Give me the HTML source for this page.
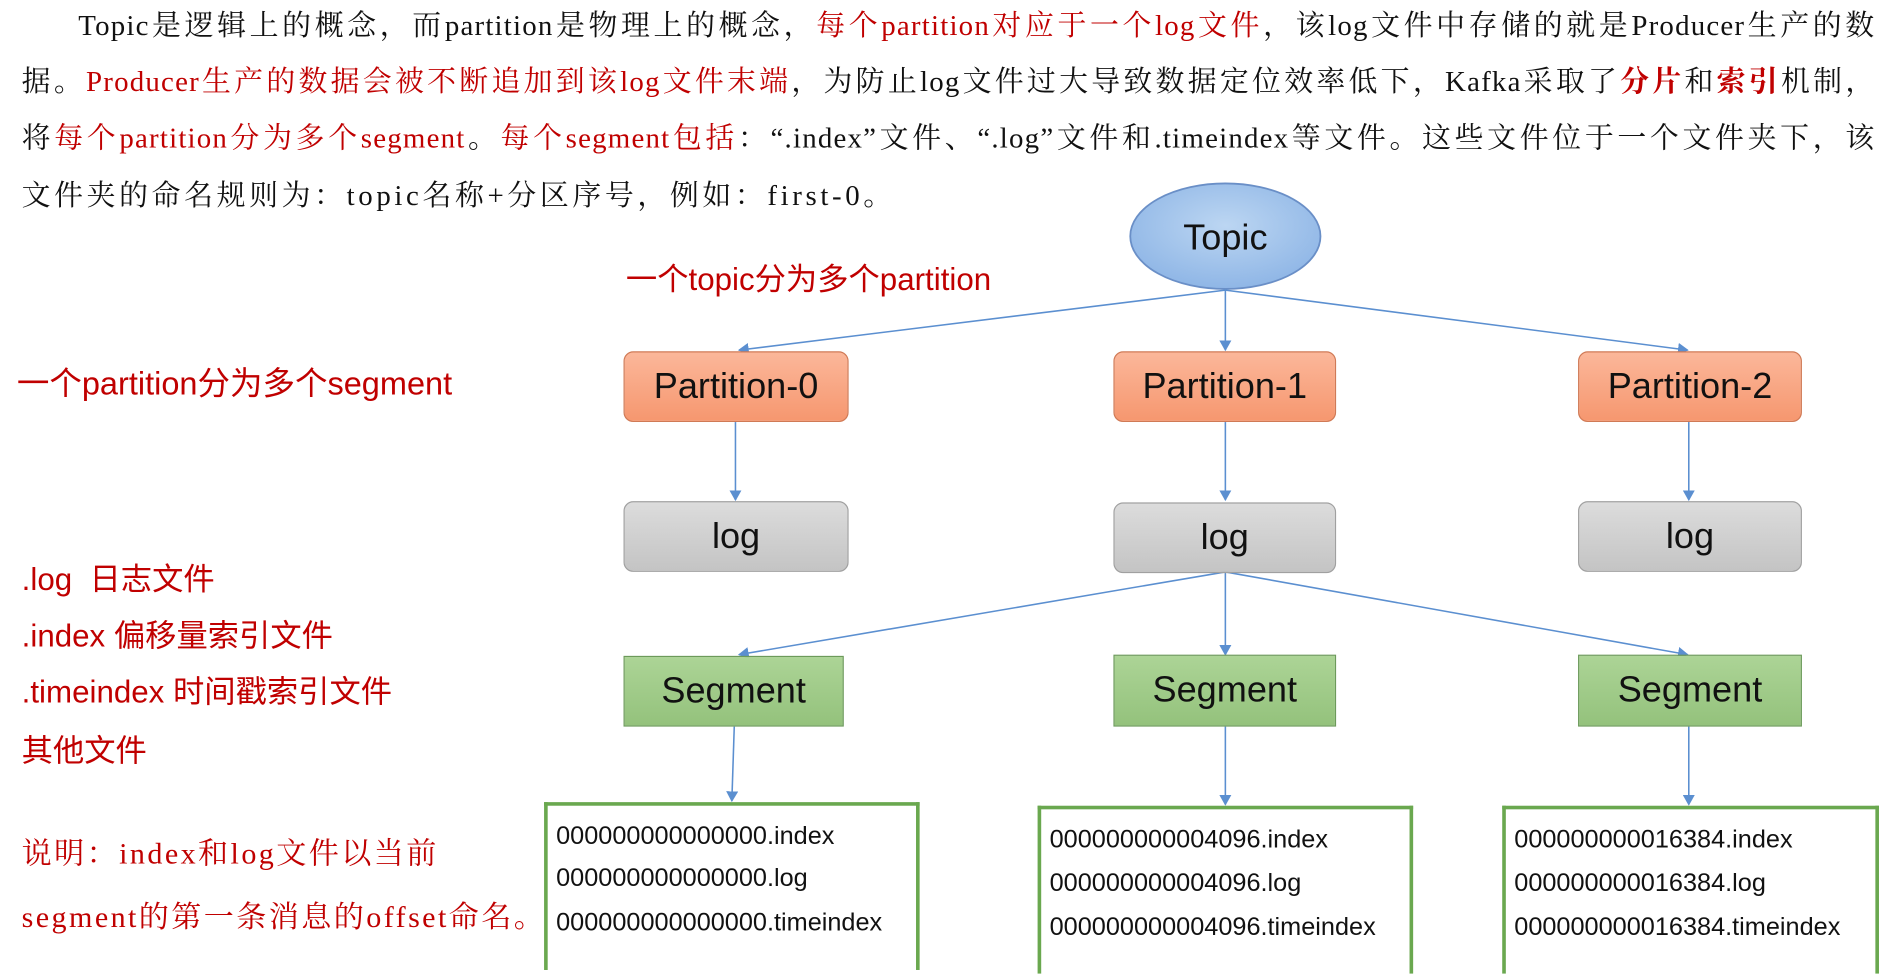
<!DOCTYPE html>
<html><head><meta charset="utf-8"><style>
html,body{margin:0;padding:0;background:#fff;width:1885px;height:940px;overflow:hidden}
#s{position:absolute;left:0;top:0;width:1566px;height:784px;transform:scale(1.2037,1.199);transform-origin:0 0}
.p{position:absolute;left:18px;width:1540px;font-family:"Liberation Serif","Noto Serif CJK SC",serif;font-size:24px;color:#111;white-space:nowrap;line-height:30px;letter-spacing:1px}
.j{text-align:justify;text-align-last:justify;white-space:normal;overflow:hidden;height:32px}
.r{color:#c00000}
.lab{position:absolute;color:#c00000;font-size:26px;white-space:nowrap;font-family:"Liberation Sans","Noto Sans CJK SC",sans-serif;line-height:30px}
.box{position:absolute;display:flex;align-items:center;justify-content:center;font-family:"Liberation Sans",sans-serif;font-size:30px;color:#111;box-sizing:border-box}
.pt{background:linear-gradient(#fbb79a,#f6976f);border:1px solid #d07a56;border-radius:8px}
.lg{background:linear-gradient(#dcdcdc,#c4c4c4);border:1px solid #a0a0a0;border-radius:8px}
.sg{background:linear-gradient(#acd496,#94c27c);border:1px solid #6c9a5a}
.fb{position:absolute;border:3px solid #6aa84f;border-bottom:none;background:#fff;font-family:"Liberation Sans",sans-serif;font-size:21px;color:#111;box-sizing:border-box;height:140px}
.fb div{position:absolute;left:7px;white-space:nowrap}
</style></head><body><div id="s">
<div class="p j" style="top:7px;left:65px;width:1493px">Topic是逻辑上的概念，而partition是物理上的概念，<span class="r">每个partition对应于一个log文件</span>，该log文件中存储的就是Producer生产的数</div>
<div class="p j" style="top:54px">据。<span class="r">Producer生产的数据会被不断追加到该log文件末端</span>，为防止log文件过大导致数据定位效率低下，Kafka采取了<span class="r"><b>分片</b></span>和<span class="r"><b>索引</b></span>机制，</div>
<div class="p j" style="top:101px">将<span class="r">每个partition分为多个segment</span>。<span class="r">每个segment包括</span>：“.index”文件、“.log”文件和.timeindex等文件。这些文件位于一个文件夹下，该</div>
<div class="p" style="top:149px;letter-spacing:3px">文件夹的命名规则为：topic名称+分区序号，例如：first-0。</div>

<svg style="position:absolute;left:0;top:0" width="1566" height="784">
<defs>
<radialGradient id="tg" cx="50%" cy="40%" r="60%"><stop offset="0" stop-color="#bcd6f2"/><stop offset="1" stop-color="#8fb6e6"/></radialGradient>
<marker id="a" markerWidth="10" markerHeight="10" refX="8" refY="5" orient="auto" markerUnits="userSpaceOnUse"><path d="M0,0 L9,5 L0,10 z" fill="#5b8fd0"/></marker>
</defs>
<ellipse cx="1018" cy="197" rx="79" ry="44" fill="url(#tg)" stroke="#6a8fc7" stroke-width="1.5"/>
<text x="1018" y="208" text-anchor="middle" font-family="Liberation Sans" font-size="30" fill="#111">Topic</text>
<g stroke="#5b8fd0" stroke-width="1.3" fill="none" marker-end="url(#a)">
<line x1="1018" y1="242" x2="614" y2="292"/>
<line x1="1018" y1="242" x2="1018" y2="292"/>
<line x1="1018" y1="242" x2="1402" y2="292"/>
<line x1="611" y1="352" x2="611" y2="417"/>
<line x1="1018" y1="352" x2="1018" y2="417"/>
<line x1="1403" y1="352" x2="1403" y2="417"/>
<line x1="1018" y1="477" x2="614" y2="546"/>
<line x1="1018" y1="477" x2="1018" y2="546"/>
<line x1="1018" y1="477" x2="1402" y2="546"/>
<line x1="610" y1="606" x2="608" y2="668"/>
<line x1="1018" y1="606" x2="1018" y2="671"/>
<line x1="1403" y1="606" x2="1403" y2="671"/>
</g>
</svg>

<div class="lab" style="left:520px;top:218px">一个topic分为多个partition</div>
<div class="lab" style="left:14px;top:305px;font-size:27px">一个partition分为多个segment</div>
<div class="lab" style="left:18px;top:468px">.log&nbsp; 日志文件</div>
<div class="lab" style="left:18px;top:515px">.index 偏移量索引文件</div>
<div class="lab" style="left:18px;top:562px">.timeindex 时间戳索引文件</div>
<div class="lab" style="left:18px;top:611px">其他文件</div>
<div class="p r" style="top:698px;font-size:25px;letter-spacing:2px">说明：index和log文件以当前</div>
<div class="p r" style="top:751px;font-size:25px;letter-spacing:2px">segment的第一条消息的offset命名。</div>

<div class="box pt" style="left:518px;top:293px;width:187px;height:59px">Partition-0</div>
<div class="box pt" style="left:925px;top:293px;width:185px;height:59px">Partition-1</div>
<div class="box pt" style="left:1311px;top:293px;width:186px;height:59px">Partition-2</div>
<div class="box lg" style="left:518px;top:418px;width:187px;height:59px">log</div>
<div class="box lg" style="left:925px;top:419px;width:185px;height:59px">log</div>
<div class="box lg" style="left:1311px;top:418px;width:186px;height:59px">log</div>
<div class="box sg" style="left:518px;top:547px;width:183px;height:59px">Segment</div>
<div class="box sg" style="left:925px;top:546px;width:185px;height:60px">Segment</div>
<div class="box sg" style="left:1311px;top:546px;width:186px;height:60px">Segment</div>

<div class="fb" style="left:452px;top:669px;width:312px"><div style="top:14px">000000000000000.index</div><div style="top:49px">000000000000000.log</div><div style="top:86px">000000000000000.timeindex</div></div>
<div class="fb" style="left:862px;top:672px;width:312px"><div style="top:14px">000000000004096.index</div><div style="top:50px">000000000004096.log</div><div style="top:87px">000000000004096.timeindex</div></div>
<div class="fb" style="left:1248px;top:672px;width:313px"><div style="top:14px">000000000016384.index</div><div style="top:50px">000000000016384.log</div><div style="top:87px">000000000016384.timeindex</div></div>
</div></body></html>
